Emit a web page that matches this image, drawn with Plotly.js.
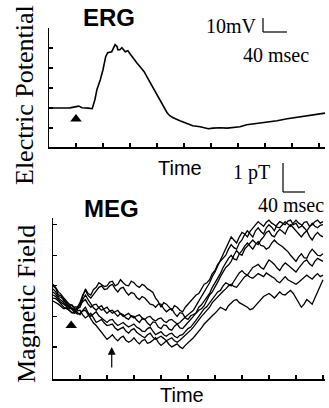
<!DOCTYPE html>
<html>
<head>
<meta charset="utf-8">
<script src="https://cdn.plot.ly/plotly-3.0.1.min.js"></script>
<style>
html,body{margin:0;padding:0;background:#fff;}
#chart{width:329px;height:408px;}
</style>
</head>
<body>
<div id="chart"></div>
<script>
// ---- ERG data (time in msec, potential in mV, relative to baseline) ----
var ergTime = [0,16,31,44,49,58,64,68,71,76,80,84,87,93,96,98,101,102,105,108,113,117,120,124,130,135,141,145,150,154,160,164,169,175,179,184,194,204,213,224,231,236,243,253,264,273,283,293,305,323,338,353,372,391,409];
var ergPotential = [0,-0.1,0.1,1.3,0.2,-0.1,-0.5,5.8,12.8,19.8,26.8,35.9,38.7,39.4,42.2,44.3,42.9,40.8,40.8,42.2,39.4,40.1,38,35.2,31.7,28.9,25.4,21.9,17.7,14.2,9.3,5.8,1.6,-3.3,-5.4,-6.8,-8.9,-11,-12.4,-13.1,-13.8,-14.5,-14.1,-13.8,-14.1,-13.8,-13.1,-11.7,-11,-9.6,-8.9,-7.5,-6.2,-4.8,-3.6];
var ergStimulus = {time: [40], value: [-7.7]};

// ---- MEG data (time in msec, field in pT) : seven overlaid trials ----
var megTime = [0,4,8,12,16,20,24,28,32,36,40,44,48,52,56,60,64,68,72,76,80,84,88,92,96,100,104,108,112,116,120,124,128,132,136,140,144,148,152,156,160,164,168,172,176,180,184,188,192,196,200,204,208,212,216,220,224,228,232,236,240,244,248,252,256,260,264,268,272,276,280,284,288,292,296,300,304,308,312,316,320,324,328,332,336,340,344,348,352,356,360,364,368,372,376,380,384,388,392,396,400];
var megTrial1 = [0.5,0.42,0.2,0.18,0.0,-0.05,-0.2,-0.12,-0.25,-0.28, -0.1,0.15,0.4,0.25,0.2,0.38,0.45,0.6,0.55,0.48, 0.5,0.62,0.65,0.5,0.55,0.7,0.6,0.52,0.5,0.65, 0.6,0.5,0.45,0.55,0.5,0.4,0.35,0.28,0.1,-0.02, -0.2,-0.05,-0.1,-0.22,-0.3,-0.15,-0.2,-0.3,-0.35,-0.2, -0.1,0.02,0.1,0.2,0.25,0.4,0.55,0.6,0.7,0.9, 1.0,1.2,1.3,1.38,1.5,1.7,1.85,1.75,1.7,1.9, 2.0,2.18,2.3,2.2,2.1,2.3,2.4,2.28,2.2,2.4, 2.5,2.42,2.3,2.5,2.6,2.55,2.5,2.62,2.65,2.5, 2.55,2.4,2.45,2.58,2.6,2.45,2.5,2.6,2.65,2.55, 2.6];
var megTrial2 = [0.4,0.3,0.15,0.12,0.05,-0.08,-0.15,-0.25,-0.3,-0.2, -0.05,0.2,0.35,0.18,0.1,0.22,0.3,0.45,0.5,0.38, 0.4,0.5,0.55,0.4,0.3,0.42,0.45,0.3,0.2,0.28, 0.25,0.12,0.05,0.15,0.1,-0.02,-0.1,-0.12,-0.2,-0.1, -0.1,-0.25,-0.35,-0.28,-0.25,-0.4,-0.5,-0.38,-0.4,-0.55, -0.6,-0.48,-0.45,-0.4,-0.3,-0.25,-0.15,0.05,0.2,0.3, 0.45,0.62,0.8,0.95,1.1,1.18,1.3,1.5,1.65,1.55, 1.5,1.7,1.8,1.92,2.0,1.9,1.85,2.0,2.1,2.25, 2.3,2.15,2.1,2.25,2.35,2.28,2.2,2.4,2.5,2.4, 2.3,2.18,2.1,2.22,2.3,2.12,2.0,2.15,2.25,2.15, 2.1];
var megTrial3 = [0.3,0.22,0.1,0.02,-0.05,-0.12,-0.2,-0.3,-0.35,-0.25, -0.2,0.05,0.2,0.05,-0.1,-0.22,-0.3,-0.2,-0.15,-0.3, -0.4,-0.32,-0.3,-0.42,-0.5,-0.4,-0.45,-0.55,-0.6,-0.48, -0.5,-0.62,-0.7,-0.58,-0.6,-0.72,-0.8,-0.68,-0.7,-0.85, -0.9,-0.78,-0.8,-0.92,-0.95,-0.82,-0.75,-0.88,-0.9,-0.8, -0.7,-0.62,-0.5,-0.38,-0.2,-0.12,0.0,0.12,0.25,0.45, 0.6,0.72,0.9,1.1,1.25,1.4,1.5,1.38,1.35,1.55, 1.65,1.8,1.9,1.78,1.7,1.85,1.95,1.82,1.8,1.7, 1.75,1.9,2.0,1.9,1.85,1.78,1.7,1.62,1.5,1.4, 1.3,1.45,1.55,1.42,1.4,1.58,1.7,1.6,1.5,1.48, 1.55];
var megTrial4 = [0.2,0.15,0.05,-0.05,-0.1,-0.18,-0.25,-0.22,-0.3,-0.4, -0.45,-0.3,-0.2,-0.38,-0.5,-0.42,-0.35,-0.48,-0.55,-0.65, -0.7,-0.62,-0.6,-0.72,-0.8,-0.75,-0.7,-0.78,-0.85,-0.8, -0.75,-0.85,-0.9,-0.98,-1.0,-0.9,-0.85,-0.98,-1.1,-1.05, -1.0,-1.1,-1.15,-1.08,-1.05,-1.15,-1.2,-1.12,-1.1,-1.0, -0.9,-0.85,-0.75,-0.62,-0.5,-0.38,-0.25,-0.18,-0.05,0.08, 0.2,0.3,0.35,0.5,0.6,0.55,0.5,0.65,0.8,0.92, 1.0,0.9,0.85,0.98,1.1,1.15,1.2,1.1,1.05,1.2, 1.35,1.28,1.2,1.08,1.0,1.15,1.25,1.18,1.1,1.02, 0.95,1.08,1.2,1.3,1.35,1.22,1.15,1.3,1.4,1.35, 1.3];
var megTrial5 = [0.1,0.08,0.0,-0.1,-0.2,-0.25,-0.3,-0.38,-0.4,-0.32, -0.3,-0.45,-0.55,-0.48,-0.4,-0.55,-0.7,-0.65,-0.6,-0.72, -0.8,-0.78,-0.75,-0.88,-0.95,-0.9,-0.85,-0.98,-1.05,-0.95, -0.9,-1.02,-1.1,-1.15,-1.2,-1.1,-1.05,-1.18,-1.25,-1.2, -1.15,-1.22,-1.3,-1.25,-1.2,-1.3,-1.35,-1.28,-1.2,-1.12, -1.05,-0.95,-0.85,-0.72,-0.6,-0.5,-0.4,-0.3,-0.2,-0.05, 0.05,0.15,0.25,0.32,0.4,0.5,0.55,0.48,0.45,0.58, 0.7,0.8,0.85,0.78,0.75,0.82,0.9,0.85,0.8,0.92, 0.85,0.8,0.75,0.65,0.6,0.72,0.8,0.7,0.65,0.58, 0.55,0.62,0.7,0.8,0.85,0.78,0.72,0.82,0.9,0.8, 0.85];
var megTrial6 = [0.0,-0.05,-0.1,-0.18,-0.25,-0.22,-0.3,-0.38,-0.35,-0.42, -0.4,-0.32,-0.3,-0.45,-0.6,-0.72,-0.8,-0.92,-1.0,-1.12, -1.25,-1.18,-1.1,-1.22,-1.3,-1.2,-1.15,-1.28,-1.35,-1.3, -1.2,-1.32,-1.4,-1.3,-1.25,-1.38,-1.35,-1.28,-1.2,-1.35, -1.45,-1.38,-1.3,-1.42,-1.5,-1.45,-1.4,-1.5,-1.55,-1.45, -1.35,-1.28,-1.2,-1.1,-1.0,-0.88,-0.75,-0.65,-0.55,-0.48, -0.4,-0.3,-0.2,-0.25,-0.3,-0.15,-0.05,0.02,0.05,-0.05, -0.1,-0.15,-0.2,-0.28,-0.25,-0.15,-0.05,0.05,0.15,0.2, 0.25,0.18,0.1,0.2,0.3,0.22,0.2,0.28,0.35,0.25, 0.1,-0.05,-0.2,-0.1,0.05,-0.02,-0.1,0.1,0.3,0.5, 0.7];
var megTrial7 = [0.55,0.45,0.3,0.22,0.1,0.0,-0.1,-0.15,-0.2,-0.18, -0.15,-0.02,0.05,-0.1,-0.2,-0.12,-0.1,-0.22,-0.3,-0.25, -0.2,-0.32,-0.4,-0.35,-0.3,-0.42,-0.5,-0.45,-0.4,-0.5, -0.55,-0.48,-0.45,-0.55,-0.6,-0.52,-0.5,-0.6,-0.65,-0.58, -0.55,-0.65,-0.7,-0.62,-0.6,-0.68,-0.75,-0.7,-0.6,-0.52, -0.45,-0.38,-0.3,-0.15,0.0,0.15,0.3,0.42,0.6,0.8, 0.95,1.15,1.35,1.5,1.7,1.92,2.1,2.0,1.9,2.1, 2.25,2.2,2.1,2.28,2.4,2.5,2.6,2.52,2.45,2.58, 2.65,2.55,2.5,2.42,2.4,2.5,2.6,2.52,2.45,2.55, 2.65,2.55,2.5,2.4,2.3,2.42,2.55,2.45,2.4,2.48, 2.5];
var megTrials = [megTrial1, megTrial2, megTrial3, megTrial4, megTrial5, megTrial6, megTrial7];
var megStimulus = {time: [27], value: [-0.8]};
var megOnset = {time: [87], value: [-1.5]};

// ---- tick positions ----
var timeTicks = [40,80,120,160,200,240,280,320,360,400];
var ergTicks = [-14,0,14,28,42,56];
var megTicks = [-1.5,-0.5,0.5,1.5,2.5];

// ---- labels ----
var labels = {
  ergTitle: 'ERG', megTitle: 'MEG',
  ergY: 'Electric Potential', megY: 'Magnetic Field', x: 'Time',
  ergScaleV: '10mV', ergScaleH: '40 msec', megScaleV: '1 pT', megScaleH: '40 msec'
};

var W = 329, H = 408;
function px(x){ return x / W; }
function py(y){ return 1 - y / H; }

var serif = 'Liberation Serif, Times New Roman, serif';
var sans = 'Liberation Sans, Arial, sans-serif';

var traces = [];
traces.push({x: ergTime, y: ergPotential, xaxis: 'x', yaxis: 'y', mode: 'lines',
  line: {color: '#000', width: 1.6}, hoverinfo: 'skip', showlegend: false});
traces.push({x: ergStimulus.time, y: ergStimulus.value, xaxis: 'x', yaxis: 'y', mode: 'markers',
  marker: {symbol: 'triangle-up', size: 10, color: '#000'}, showlegend: false, hoverinfo: 'skip'});
megTrials.forEach(function(tr){
  traces.push({x: megTime, y: tr, xaxis: 'x2', yaxis: 'y2', mode: 'lines',
    line: {color: '#000', width: 1.3}, hoverinfo: 'skip', showlegend: false});
});
traces.push({x: megStimulus.time, y: megStimulus.value, xaxis: 'x2', yaxis: 'y2', mode: 'markers',
  marker: {symbol: 'triangle-up', size: 10, color: '#000'}, showlegend: false, hoverinfo: 'skip'});

var axisCommon = {showgrid: false, zeroline: false, showline: true, linecolor: '#000', linewidth: 1.5,
  ticks: 'inside', ticklen: 4, tickwidth: 1.2, tickcolor: '#000', showticklabels: false, fixedrange: true};

var layout = {
  width: W, height: H,
  margin: {l: 0, r: 0, t: 0, b: 0},
  paper_bgcolor: '#fff', plot_bgcolor: 'rgba(0,0,0,0)',
  showlegend: false,
  xaxis: Object.assign({}, axisCommon, {domain: [px(49), px(325)], range: [0, 409], tickvals: timeTicks, anchor: 'y'}),
  yaxis: Object.assign({}, axisCommon, {domain: [py(147), py(28)], range: [-27.3, 56], tickvals: ergTicks, anchor: 'x'}),
  xaxis2: Object.assign({}, axisCommon, {domain: [px(53), px(325)], range: [0, 403], tickvals: timeTicks, anchor: 'y2'}),
  yaxis2: Object.assign({}, axisCommon, {domain: [py(379), py(218)], range: [-2.55, 2.72], tickvals: megTicks, anchor: 'x2'}),
  shapes: [
    {type: 'line', xref: 'paper', yref: 'paper', x0: px(263), x1: px(263), y0: py(18), y1: py(32), line: {color: '#000', width: 1.2}},
    {type: 'line', xref: 'paper', yref: 'paper', x0: px(263), x1: px(287), y0: py(32), y1: py(32), line: {color: '#000', width: 1.2}},
    {type: 'line', xref: 'paper', yref: 'paper', x0: px(283), x1: px(283), y0: py(163), y1: py(192), line: {color: '#000', width: 1.2}},
    {type: 'line', xref: 'paper', yref: 'paper', x0: px(283), x1: px(305), y0: py(192), y1: py(192), line: {color: '#000', width: 1.2}}
  ],
  annotations: [
    {text: '<b>' + labels.ergTitle + '</b>', xref: 'paper', yref: 'paper', x: px(109), y: py(18), xanchor: 'center', yanchor: 'middle', showarrow: false, font: {family: sans, size: 24, color: '#000'}},
    {text: '<b>' + labels.megTitle + '</b>', xref: 'paper', yref: 'paper', x: px(111), y: py(208), xanchor: 'center', yanchor: 'middle', showarrow: false, font: {family: sans, size: 24, color: '#000'}},
    {text: labels.ergY, xref: 'paper', yref: 'paper', x: px(24), y: py(95), xanchor: 'center', yanchor: 'middle', textangle: -90, showarrow: false, font: {family: serif, size: 26, color: '#000'}},
    {text: labels.megY, xref: 'paper', yref: 'paper', x: px(26), y: py(304), xanchor: 'center', yanchor: 'middle', textangle: -90, showarrow: false, font: {family: serif, size: 26, color: '#000'}},
    {text: labels.x, xref: 'paper', yref: 'paper', x: px(180), y: py(168), xanchor: 'center', yanchor: 'middle', showarrow: false, font: {family: sans, size: 20, color: '#000'}},
    {text: labels.x, xref: 'paper', yref: 'paper', x: px(182), y: py(395), xanchor: 'center', yanchor: 'middle', showarrow: false, font: {family: sans, size: 20, color: '#000'}},
    {text: labels.ergScaleV, xref: 'paper', yref: 'paper', x: px(259), y: py(26), xanchor: 'right', yanchor: 'middle', showarrow: false, font: {family: serif, size: 20, color: '#000'}},
    {text: labels.ergScaleH, xref: 'paper', yref: 'paper', x: px(276), y: py(55), xanchor: 'center', yanchor: 'middle', showarrow: false, font: {family: serif, size: 20, color: '#000'}},
    {text: labels.megScaleV, xref: 'paper', yref: 'paper', x: px(272), y: py(172), xanchor: 'right', yanchor: 'middle', showarrow: false, font: {family: serif, size: 20, color: '#000'}},
    {text: labels.megScaleH, xref: 'paper', yref: 'paper', x: px(291), y: py(205), xanchor: 'center', yanchor: 'middle', showarrow: false, font: {family: serif, size: 20, color: '#000'}},
    {text: '', xref: 'x2', yref: 'y2', x: megOnset.time[0], y: megOnset.value[0], showarrow: true, arrowhead: 2, arrowsize: 1.3, arrowwidth: 1.2, arrowcolor: '#000', ax: 0, ay: 22, standoff: 0}
  ]
};

Plotly.newPlot('chart', traces, layout, {displayModeBar: false, staticPlot: true});
</script>
</body>
</html>
